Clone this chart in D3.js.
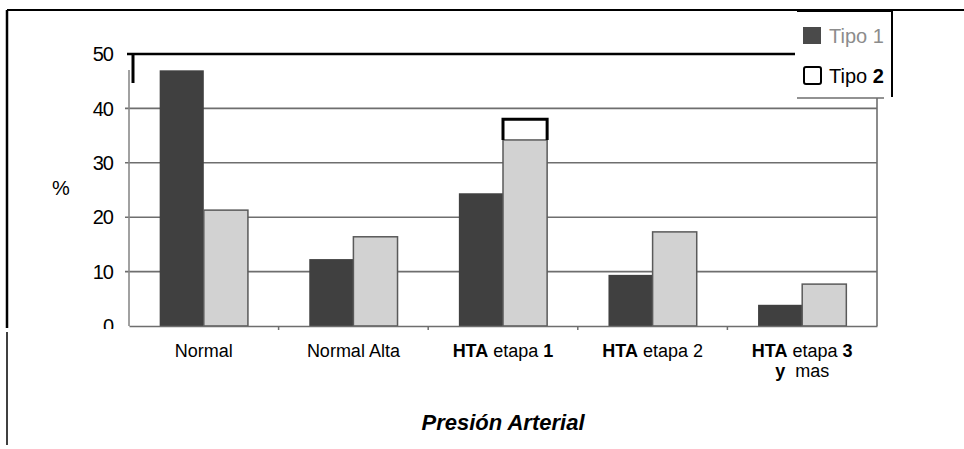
<!DOCTYPE html>
<html>
<head>
<meta charset="utf-8">
<script src="https://cdn.jsdelivr.net/npm/d3@7"></script>
<style>
    body { margin: 0; background: #fff; }
    svg { display: block; font-family: "Liberation Sans", Arial, sans-serif; }
    .grid line { stroke: #6e6e6e; stroke-width: 1.6; }
    .y-label { font-size: 20px; letter-spacing: -1px; fill: #000; }
    .x-label { font-size: 18px; fill: #000; }
</style>
</head>
<body>
<svg id="chart" width="964" height="449"></svg>
<script>
// DATA
var categories = ["Normal", "Normal Alta", "HTA etapa 1", "HTA etapa 2", "HTA etapa 3 y mas"];
var tipo1 = [47, 12.3, 24.4, 9.4, 3.9];
var tipo2 = [21.3, 16.4, 38, 17.3, 7.7];
// grey fill of Tipo 2 stops lower than its outline on the scan
var tipo2Fill = [21.3, 16.4, 34.2, 17.3, 7.7];
var yTicks = [0, 10, 20, 30, 40, 50];
var seriesNames = ["Tipo 1", "Tipo 2"];

// label pieces: [text, bold]
var labelLines = [
    [[["Normal", false]]],
    [[["Normal Alta", false]]],
    [[["HTA", true], [" etapa ", false], ["1", true]]],
    [[["HTA", true], [" etapa 2", false]]],
    [[["HTA", true], [" etapa ", false], ["3", true]], [["y", true], ["\u00a0 mas", false]]]
];

// SETUP
var svg = d3.select("#chart");
var _left = 129, _right = 877, _top = 54, _bottom = 326;
var _darkColor = "#404040";
var _lightColor = "#d2d2d2";

var x = d3.scaleBand()
    .domain(categories)
    .range([_left, _right])
    .paddingInner(0.41)
    .paddingOuter(0.205);

var xSub = d3.scaleBand()
    .domain(seriesNames)
    .range([0, x.bandwidth()]);

var y = d3.scaleLinear()
    .domain([0, 50])
    .range([_bottom, _top]);

// outer frame of the scan
svg.append("line")
    .attr("x1", 7).attr("x2", 964)
    .attr("y1", 10).attr("y2", 10)
    .attr("stroke", "#000").attr("stroke-width", 2);
svg.append("line")
    .attr("x1", 7).attr("x2", 7)
    .attr("y1", 10).attr("y2", 328)
    .attr("stroke", "#000").attr("stroke-width", 2.5);
svg.append("line")
    .attr("x1", 7).attr("x2", 7)
    .attr("y1", 332).attr("y2", 445)
    .attr("stroke", "#000").attr("stroke-width", 1.5);

// gridlines
var grid = svg.append("g").classed("grid", true);
grid.selectAll("line")
    .data(yTicks.filter(function(d) { return d > 0 && d < 50; }))
    .enter()
    .append("line")
        .attr("x1", _left - 4)
        .attr("x2", _right)
        .attr("y1", function(d) { return y(d); })
        .attr("y2", function(d) { return y(d); });

// top line at 50 (black on scan)
svg.append("line")
    .attr("x1", _left - 2).attr("x2", 795)
    .attr("y1", y(50)).attr("y2", y(50))
    .attr("stroke", "#000").attr("stroke-width", 2.5);
svg.append("line")
    .attr("x1", 133).attr("x2", 133)
    .attr("y1", y(50)).attr("y2", 83)
    .attr("stroke", "#000").attr("stroke-width", 3);

// plot side axes
svg.append("line")
    .attr("x1", _left).attr("x2", _left)
    .attr("y1", 70).attr("y2", _bottom)
    .attr("stroke", "#8a8a8a").attr("stroke-width", 1.6);
svg.append("line")
    .attr("x1", _right).attr("x2", _right)
    .attr("y1", 98).attr("y2", _bottom)
    .attr("stroke", "#6e6e6e").attr("stroke-width", 1.6);

// bars
var groups = svg.selectAll(".bar-group")
    .data(categories)
    .enter()
    .append("g")
        .classed("bar-group", true)
        .attr("transform", function(d) {
            return "translate(" + x(d) + ",0)";
        });

groups.append("rect")
    .attr("x", xSub("Tipo 1"))
    .attr("width", xSub.bandwidth())
    .attr("y", function(d, i) { return y(tipo1[i]); })
    .attr("height", function(d, i) { return _bottom - y(tipo1[i]); })
    .attr("fill", _darkColor);

groups.append("rect")
    .attr("x", xSub("Tipo 2"))
    .attr("width", xSub.bandwidth())
    .attr("y", function(d, i) { return y(tipo2Fill[i]); })
    .attr("height", function(d, i) { return _bottom - y(tipo2Fill[i]); })
    .attr("fill", _lightColor)
    .attr("stroke", "#5a5a5a")
    .attr("stroke-width", 1.5);

// open black outline where the value is above the grey fill
groups.filter(function(d, i) { return tipo2[i] > tipo2Fill[i]; })
    .append("path")
    .attr("d", function(d) {
        var i = categories.indexOf(d);
        var x0 = xSub("Tipo 2"), x1 = x0 + xSub.bandwidth();
        return "M" + x0 + "," + y(tipo2Fill[i]) + "V" + y(tipo2[i]) +
            "H" + x1 + "V" + y(tipo2Fill[i]);
    })
    .attr("fill", "none")
    .attr("stroke", "#000")
    .attr("stroke-width", 3);

// x axis baseline and ticks
var xAxis = d3.axisBottom(x).tickSize(0).tickFormat("");
svg.append("g")
    .attr("transform", "translate(0," + _bottom + ")")
    .call(xAxis)
    .call(function(g) {
        g.select(".domain").attr("stroke", "#6e6e6e").attr("stroke-width", 1.6);
    });
svg.append("g")
    .selectAll("line")
    .data(categories.slice(1))
    .enter()
    .append("line")
        .attr("x1", function(d) { return x(d) - x.step() * x.paddingInner() / 2; })
        .attr("x2", function(d) { return x(d) - x.step() * x.paddingInner() / 2; })
        .attr("y1", _bottom)
        .attr("y2", _bottom + 4)
        .attr("stroke", "#6e6e6e")
        .attr("stroke-width", 1.5);

// y labels
svg.append("g")
    .selectAll("text")
    .data(yTicks)
    .enter()
    .append("text")
        .classed("y-label", true)
        .attr("x", 113)
        .attr("y", function(d) { return y(d); })
        .attr("dy", "0.36em")
        .attr("text-anchor", "end")
        .text(function(d) { return d; });

// gap in the scan under the 0 label
svg.append("rect")
    .attr("x", 80).attr("y", _bottom + 3)
    .attr("width", 46).attr("height", 4)
    .attr("fill", "#fff");

svg.append("text")
    .attr("x", 61)
    .attr("y", 195)
    .attr("text-anchor", "middle")
    .style("font-size", "20px")
    .text("%");

// x labels, one text element per line
var xLabels = svg.append("g")
    .selectAll("g")
    .data(categories)
    .enter()
    .append("g");

xLabels.each(function(d, i) {
    var g = d3.select(this);
    var cx = x(d) + x.bandwidth() / 2;
    labelLines[i].forEach(function(line, li) {
        var t = g.append("text")
            .classed("x-label", true)
            .attr("text-anchor", "middle")
            .attr("x", cx)
            .attr("y", 357 + li * 20);
        line.forEach(function(part) {
            t.append("tspan")
                .style("font-weight", part[1] ? "bold" : "normal")
                .text(part[0]);
        });
    });
});

// axis title
svg.append("text")
    .attr("x", 503)
    .attr("y", 430)
    .attr("text-anchor", "middle")
    .style("font-size", "22px")
    .style("font-weight", "bold")
    .style("font-style", "italic")
    .text("Presión Arterial");

// legend
var legend = svg.append("g");
legend.append("line")
    .attr("x1", 797).attr("x2", 892)
    .attr("y1", 10.5).attr("y2", 10.5)
    .attr("stroke", "#000").attr("stroke-width", 3);
legend.append("line")
    .attr("x1", 892).attr("x2", 892)
    .attr("y1", 10).attr("y2", 97)
    .attr("stroke", "#000").attr("stroke-width", 2);
legend.append("line")
    .attr("x1", 797).attr("x2", 884)
    .attr("y1", 98).attr("y2", 98)
    .attr("stroke", "#6e6e6e").attr("stroke-width", 1.5);

legend.append("rect")
    .attr("x", 803).attr("y", 27)
    .attr("width", 18).attr("height", 17)
    .attr("fill", "#4a4a4a");
legend.append("text")
    .attr("x", 829).attr("y", 43)
    .style("font-size", "20px")
    .attr("fill", "#8c8c8c")
    .text(seriesNames[0]);

legend.append("rect")
    .attr("x", 804).attr("y", 67)
    .attr("width", 17).attr("height", 17)
    .attr("rx", 2)
    .attr("fill", "#fff")
    .attr("stroke", "#000")
    .attr("stroke-width", 2);
var t2 = legend.append("text")
    .attr("x", 829).attr("y", 83)
    .style("font-size", "20px")
    .attr("fill", "#000");
t2.append("tspan").text("Tipo ");
t2.append("tspan").style("font-weight", "bold").text("2");
</script>
</body>
</html>
